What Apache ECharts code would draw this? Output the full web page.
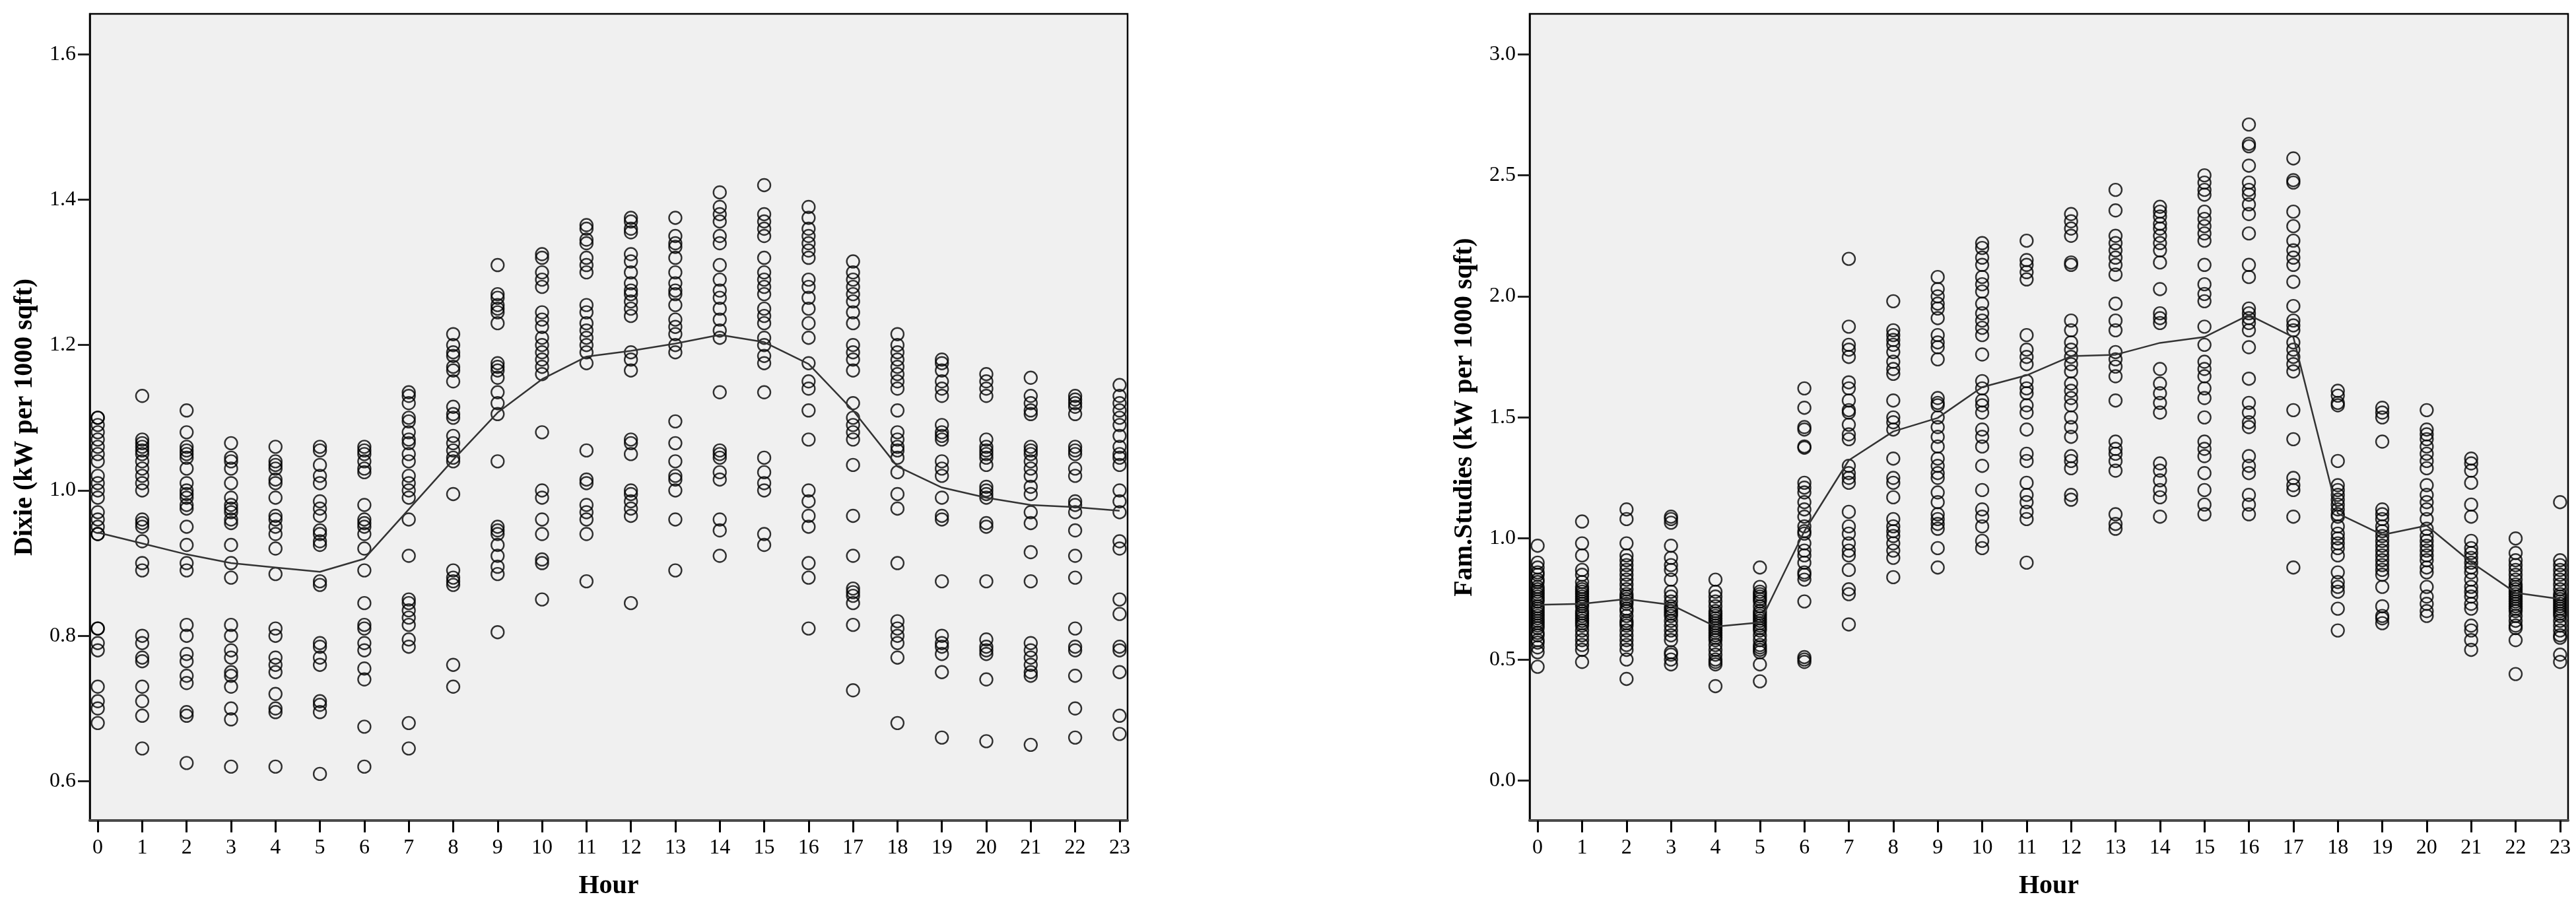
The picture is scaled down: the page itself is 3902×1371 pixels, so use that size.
<!DOCTYPE html>
<html>
<head>
<meta charset="utf-8">
<script src="https://cdn.jsdelivr.net/npm/echarts@6/dist/echarts.min.js"></script>
<style>
html, body { margin: 0; padding: 0; background: #fff; }
#chart { width: 3902px; height: 1371px; }
</style>
</head>
<body>
<div id="chart"></div>
<script>
// hours on the x axis
const hours = [0, 1, 2, 3, 4, 5, 6, 7, 8, 9, 10, 11, 12, 13, 14, 15, 16, 17, 18, 19, 20, 21, 22, 23];
const dixieTicks = [0.6, 0.8, 1.0, 1.2, 1.4, 1.6];
const famTicks = [0.0, 0.5, 1.0, 1.5, 2.0, 2.5, 3.0];

// mean line per hour
const dixieMean = [0.942, 0.927, 0.912, 0.900, 0.894, 0.888, 0.906, 0.974, 1.042, 1.107, 1.153, 1.184,
                   1.192, 1.202, 1.214, 1.204, 1.174, 1.110, 1.033, 1.004, 0.990, 0.980, 0.977, 0.972];
const famMean = [0.726, 0.730, 0.750, 0.726, 0.636, 0.653, 1.030, 1.323, 1.442, 1.498, 1.625, 1.674,
                 1.753, 1.759, 1.808, 1.832, 1.923, 1.832, 1.103, 1.015, 1.053, 0.902, 0.776, 0.750];

// observations, one list per hour (Dixie)
const dixieByHour = [
  [1.10, 1.10, 1.09, 1.08, 1.07, 1.06, 1.05, 1.04, 1.02, 1.01, 1.0, 0.99, 0.97, 0.96, 0.95, 0.94, 0.94, 0.81, 0.81, 0.79, 0.78, 0.73, 0.71, 0.70, 0.68],
  [1.13, 1.07, 1.065, 1.06, 1.055, 1.05, 1.04, 1.03, 1.02, 1.01, 1.0, 0.96, 0.955, 0.95, 0.93, 0.90, 0.89, 0.80, 0.79, 0.77, 0.765, 0.73, 0.71, 0.69, 0.645],
  [1.11, 1.08, 1.06, 1.055, 1.05, 1.045, 1.03, 1.01, 1.0, 0.995, 0.99, 0.98, 0.975, 0.95, 0.925, 0.90, 0.89, 0.815, 0.80, 0.775, 0.765, 0.745, 0.735, 0.695, 0.69, 0.625],
  [1.065, 1.045, 1.04, 1.03, 1.01, 0.99, 0.98, 0.975, 0.97, 0.96, 0.955, 0.925, 0.90, 0.88, 0.815, 0.80, 0.78, 0.77, 0.75, 0.745, 0.73, 0.70, 0.685, 0.62],
  [1.06, 1.04, 1.035, 1.03, 1.015, 1.01, 0.99, 0.965, 0.96, 0.95, 0.94, 0.92, 0.885, 0.81, 0.80, 0.77, 0.76, 0.75, 0.72, 0.70, 0.695, 0.62],
  [1.06, 1.055, 1.035, 1.02, 1.01, 0.985, 0.975, 0.965, 0.945, 0.94, 0.93, 0.925, 0.875, 0.87, 0.79, 0.785, 0.77, 0.76, 0.71, 0.705, 0.695, 0.61],
  [1.06, 1.055, 1.05, 1.04, 1.03, 1.025, 0.98, 0.96, 0.955, 0.95, 0.94, 0.92, 0.89, 0.845, 0.815, 0.81, 0.79, 0.78, 0.755, 0.74, 0.675, 0.62],
  [1.135, 1.13, 1.12, 1.10, 1.095, 1.08, 1.07, 1.065, 1.05, 1.04, 1.02, 1.01, 1.0, 0.99, 0.96, 0.91, 0.85, 0.845, 0.835, 0.825, 0.815, 0.795, 0.785, 0.68, 0.645],
  [1.215, 1.20, 1.19, 1.185, 1.17, 1.165, 1.15, 1.115, 1.105, 1.10, 1.075, 1.065, 1.055, 1.045, 1.04, 0.995, 0.89, 0.88, 0.875, 0.87, 0.76, 0.73],
  [1.31, 1.27, 1.265, 1.255, 1.25, 1.245, 1.23, 1.175, 1.17, 1.165, 1.155, 1.135, 1.12, 1.105, 1.04, 0.95, 0.945, 0.94, 0.925, 0.91, 0.895, 0.885, 0.805],
  [1.325, 1.32, 1.30, 1.29, 1.28, 1.245, 1.235, 1.225, 1.21, 1.20, 1.19, 1.18, 1.17, 1.16, 1.08, 1.0, 0.99, 0.96, 0.94, 0.905, 0.90, 0.85],
  [1.365, 1.36, 1.345, 1.34, 1.32, 1.31, 1.30, 1.255, 1.245, 1.23, 1.22, 1.21, 1.20, 1.19, 1.175, 1.055, 1.015, 1.01, 0.98, 0.97, 0.96, 0.94, 0.875],
  [1.375, 1.37, 1.36, 1.355, 1.325, 1.315, 1.30, 1.285, 1.275, 1.27, 1.26, 1.25, 1.24, 1.19, 1.18, 1.165, 1.07, 1.065, 1.05, 1.0, 0.995, 0.985, 0.975, 0.965, 0.845],
  [1.375, 1.35, 1.34, 1.335, 1.32, 1.30, 1.285, 1.275, 1.27, 1.255, 1.235, 1.225, 1.215, 1.20, 1.19, 1.095, 1.065, 1.04, 1.02, 1.015, 1.0, 0.96, 0.89],
  [1.41, 1.39, 1.38, 1.37, 1.35, 1.34, 1.31, 1.29, 1.275, 1.265, 1.25, 1.235, 1.22, 1.21, 1.135, 1.055, 1.05, 1.045, 1.025, 1.015, 0.96, 0.945, 0.91],
  [1.42, 1.38, 1.37, 1.36, 1.35, 1.32, 1.30, 1.29, 1.28, 1.27, 1.25, 1.24, 1.23, 1.21, 1.20, 1.185, 1.175, 1.135, 1.045, 1.025, 1.01, 1.0, 0.94, 0.925],
  [1.39, 1.375, 1.36, 1.35, 1.34, 1.33, 1.32, 1.29, 1.28, 1.265, 1.25, 1.23, 1.21, 1.175, 1.15, 1.14, 1.11, 1.07, 1.0, 0.985, 0.965, 0.95, 0.90, 0.88, 0.81],
  [1.315, 1.30, 1.29, 1.28, 1.27, 1.26, 1.245, 1.23, 1.20, 1.19, 1.18, 1.165, 1.12, 1.10, 1.09, 1.08, 1.07, 1.035, 0.965, 0.91, 0.865, 0.86, 0.855, 0.845, 0.815, 0.725],
  [1.215, 1.20, 1.19, 1.18, 1.17, 1.16, 1.15, 1.14, 1.11, 1.08, 1.07, 1.06, 1.055, 1.045, 1.025, 0.995, 0.975, 0.90, 0.82, 0.81, 0.80, 0.79, 0.77, 0.68],
  [1.18, 1.175, 1.165, 1.15, 1.14, 1.13, 1.09, 1.08, 1.075, 1.07, 1.04, 1.03, 1.02, 0.99, 0.965, 0.96, 0.875, 0.80, 0.79, 0.785, 0.775, 0.75, 0.66],
  [1.16, 1.15, 1.14, 1.13, 1.07, 1.06, 1.055, 1.05, 1.045, 1.035, 1.005, 1.0, 0.995, 0.99, 0.955, 0.95, 0.875, 0.795, 0.785, 0.78, 0.775, 0.74, 0.655],
  [1.155, 1.13, 1.12, 1.11, 1.105, 1.06, 1.055, 1.05, 1.04, 1.03, 1.02, 1.005, 0.995, 0.97, 0.955, 0.915, 0.875, 0.79, 0.78, 0.77, 0.76, 0.75, 0.745, 0.65],
  [1.13, 1.125, 1.12, 1.115, 1.105, 1.06, 1.055, 1.05, 1.03, 1.02, 0.985, 0.98, 0.97, 0.945, 0.91, 0.88, 0.81, 0.785, 0.78, 0.745, 0.70, 0.66],
  [1.145, 1.13, 1.12, 1.11, 1.10, 1.09, 1.075, 1.06, 1.05, 1.045, 1.035, 1.0, 0.985, 0.97, 0.93, 0.92, 0.85, 0.83, 0.785, 0.78, 0.75, 0.69, 0.665]
];

// observations, one list per hour (Fam.Studies)
const famByHour = [
  [0.97, 0.90, 0.88, 0.86, 0.85, 0.83, 0.82, 0.80, 0.79, 0.78, 0.77, 0.76, 0.75, 0.74, 0.72, 0.71, 0.70, 0.69, 0.68, 0.67, 0.66, 0.65, 0.64, 0.63, 0.61, 0.60, 0.58, 0.57, 0.55, 0.53, 0.47],
  [1.07, 0.98, 0.93, 0.87, 0.85, 0.82, 0.80, 0.79, 0.78, 0.77, 0.76, 0.75, 0.74, 0.73, 0.72, 0.70, 0.69, 0.68, 0.67, 0.66, 0.65, 0.64, 0.62, 0.60, 0.58, 0.56, 0.54, 0.49],
  [1.12, 1.08, 0.98, 0.93, 0.91, 0.89, 0.87, 0.85, 0.83, 0.81, 0.79, 0.77, 0.76, 0.75, 0.74, 0.73, 0.71, 0.70, 0.68, 0.66, 0.65, 0.64, 0.62, 0.60, 0.58, 0.56, 0.54, 0.50, 0.42],
  [1.09, 1.08, 1.065, 0.97, 0.92, 0.89, 0.87, 0.83, 0.78, 0.76, 0.74, 0.72, 0.71, 0.70, 0.69, 0.68, 0.66, 0.64, 0.62, 0.60, 0.58, 0.53, 0.52, 0.50, 0.48],
  [0.83, 0.78, 0.76, 0.74, 0.72, 0.70, 0.69, 0.68, 0.67, 0.66, 0.65, 0.64, 0.63, 0.62, 0.61, 0.60, 0.59, 0.58, 0.56, 0.54, 0.52, 0.50, 0.49, 0.48, 0.39],
  [0.88, 0.80, 0.78, 0.77, 0.76, 0.75, 0.74, 0.72, 0.70, 0.69, 0.68, 0.67, 0.66, 0.65, 0.64, 0.63, 0.62, 0.60, 0.58, 0.56, 0.55, 0.54, 0.53, 0.48, 0.41],
  [1.62, 1.54, 1.46, 1.45, 1.38, 1.375, 1.23, 1.21, 1.19, 1.15, 1.12, 1.09, 1.05, 1.03, 1.02, 0.98, 0.95, 0.93, 0.90, 0.86, 0.85, 0.83, 0.74, 0.51, 0.50, 0.49],
  [2.155, 1.875, 1.80, 1.78, 1.75, 1.645, 1.62, 1.57, 1.53, 1.52, 1.47, 1.43, 1.41, 1.30, 1.27, 1.25, 1.23, 1.11, 1.05, 1.02, 0.98, 0.95, 0.93, 0.87, 0.79, 0.77, 0.645],
  [1.98, 1.86, 1.84, 1.82, 1.80, 1.77, 1.73, 1.70, 1.68, 1.57, 1.50, 1.48, 1.45, 1.33, 1.25, 1.23, 1.17, 1.08, 1.05, 1.03, 1.01, 0.98, 0.95, 0.92, 0.84],
  [2.08, 2.03, 2.0, 1.97, 1.95, 1.91, 1.84, 1.81, 1.79, 1.74, 1.58, 1.56, 1.55, 1.50, 1.46, 1.42, 1.38, 1.33, 1.30, 1.27, 1.25, 1.19, 1.15, 1.10, 1.08, 1.06, 1.04, 0.96, 0.88],
  [2.22, 2.20, 2.16, 2.13, 2.08, 2.05, 2.02, 1.97, 1.93, 1.90, 1.87, 1.84, 1.76, 1.65, 1.62, 1.57, 1.55, 1.52, 1.45, 1.42, 1.38, 1.30, 1.20, 1.12, 1.09, 1.05, 0.99, 0.96],
  [2.23, 2.15, 2.13, 2.10, 2.07, 1.84, 1.78, 1.75, 1.72, 1.65, 1.62, 1.60, 1.55, 1.52, 1.45, 1.35, 1.32, 1.23, 1.18, 1.15, 1.11, 1.08, 0.90],
  [2.34, 2.31, 2.28, 2.25, 2.14, 2.13, 1.90, 1.86, 1.81, 1.78, 1.75, 1.72, 1.69, 1.64, 1.61, 1.58, 1.55, 1.50, 1.46, 1.42, 1.34, 1.32, 1.29, 1.18, 1.16],
  [2.44, 2.355, 2.25, 2.22, 2.19, 2.16, 2.13, 2.09, 1.97, 1.90, 1.86, 1.77, 1.74, 1.71, 1.67, 1.57, 1.40, 1.37, 1.35, 1.32, 1.28, 1.10, 1.06, 1.04],
  [2.37, 2.35, 2.33, 2.30, 2.28, 2.25, 2.22, 2.19, 2.14, 2.03, 1.93, 1.91, 1.89, 1.70, 1.64, 1.60, 1.56, 1.52, 1.31, 1.28, 1.24, 1.20, 1.17, 1.09],
  [2.50, 2.47, 2.44, 2.42, 2.35, 2.32, 2.29, 2.26, 2.23, 2.13, 2.05, 2.01, 1.98, 1.875, 1.80, 1.73, 1.70, 1.67, 1.62, 1.58, 1.50, 1.40, 1.37, 1.34, 1.27, 1.20, 1.14, 1.10],
  [2.71, 2.63, 2.62, 2.54, 2.47, 2.44, 2.42, 2.38, 2.34, 2.26, 2.13, 2.08, 1.95, 1.93, 1.91, 1.89, 1.86, 1.79, 1.66, 1.56, 1.52, 1.48, 1.46, 1.34, 1.30, 1.27, 1.18, 1.14, 1.10],
  [2.57, 2.48, 2.47, 2.35, 2.29, 2.23, 2.19, 2.16, 2.13, 2.06, 1.96, 1.90, 1.88, 1.86, 1.81, 1.78, 1.75, 1.72, 1.69, 1.53, 1.41, 1.25, 1.22, 1.20, 1.09, 0.88],
  [1.61, 1.59, 1.56, 1.55, 1.32, 1.22, 1.20, 1.18, 1.16, 1.14, 1.12, 1.10, 1.09, 1.05, 1.02, 1.0, 0.98, 0.96, 0.93, 0.86, 0.82, 0.80, 0.78, 0.71, 0.62],
  [1.54, 1.52, 1.50, 1.40, 1.12, 1.10, 1.08, 1.05, 1.03, 1.01, 0.99, 0.97, 0.95, 0.93, 0.91, 0.89, 0.87, 0.85, 0.80, 0.72, 0.68, 0.67, 0.65],
  [1.53, 1.45, 1.43, 1.41, 1.38, 1.35, 1.32, 1.29, 1.22, 1.18, 1.15, 1.12, 1.08, 1.04, 1.01, 0.99, 0.97, 0.95, 0.93, 0.91, 0.88, 0.86, 0.80, 0.76, 0.73, 0.70, 0.68],
  [1.33, 1.31, 1.28, 1.23, 1.14, 1.09, 0.99, 0.96, 0.94, 0.92, 0.90, 0.88, 0.86, 0.83, 0.80, 0.78, 0.76, 0.73, 0.71, 0.64, 0.62, 0.58, 0.54],
  [1.0, 0.94, 0.91, 0.89, 0.87, 0.85, 0.83, 0.81, 0.80, 0.79, 0.78, 0.77, 0.76, 0.75, 0.74, 0.73, 0.72, 0.71, 0.70, 0.68, 0.66, 0.64, 0.63, 0.58, 0.44],
  [1.15, 0.91, 0.89, 0.87, 0.85, 0.83, 0.81, 0.79, 0.77, 0.76, 0.75, 0.74, 0.73, 0.72, 0.71, 0.70, 0.69, 0.68, 0.66, 0.64, 0.62, 0.60, 0.59, 0.52, 0.49]
];

function points(byHour) {
  let out = [];
  byHour.forEach((vals, h) => {
    vals.forEach(v => out.push([hours[h], v]));
  });
  return out;
}

function meanLine(mean) {
  return mean.map((v, i) => [hours[i], v]);
}

const serif = 'Liberation Serif';

function xAxisFor(gridIndex) {
  return {
    gridIndex: gridIndex,
    type: 'value',
    min: -0.18,
    max: 23.18,
    name: 'Hour',
    nameLocation: 'middle',
    nameGap: 80,
    nameTextStyle: { fontFamily: serif, fontWeight: 'bold', fontSize: 40, color: '#000' },
    axisLine: { show: true, onZero: false, lineStyle: { color: '#4a4a4a', width: 4 } },
    axisTick: { show: true, length: 18, customValues: hours, lineStyle: { color: '#000', width: 3 } },
    axisLabel: { customValues: hours, margin: 26, fontFamily: serif, fontSize: 32, color: '#000' },
    splitLine: { show: false }
  };
}

function yAxisFor(gridIndex, min, max, ticks, title) {
  return {
    gridIndex: gridIndex,
    type: 'value',
    min: min,
    max: max,
    name: title,
    nameLocation: 'middle',
    nameGap: 78,
    nameTextStyle: { fontFamily: serif, fontWeight: 'bold', fontSize: 40, color: '#000' },
    axisLine: { show: true, onZero: false, lineStyle: { color: '#000', width: 2.5 } },
    axisTick: { show: true, length: 18, customValues: ticks, lineStyle: { color: '#222', width: 3 } },
    axisLabel: {
      customValues: ticks, margin: 21, fontFamily: serif, fontSize: 32, color: '#000',
      formatter: v => Number(v).toFixed(1)
    },
    splitLine: { show: false }
  };
}

const dotStyle = {
  color: 'rgba(0,0,0,0)',
  borderColor: '#000',
  borderWidth: 2.4
};

var myChart = echarts.init(document.getElementById('chart'));
var option = {
  animation: false,
  backgroundColor: '#fff',
  grid: [
    { left: 136, top: 21, width: 1572, height: 1222, show: true, backgroundColor: '#f0f0f0', borderColor: '#000', borderWidth: 2.5 },
    { left: 2317, top: 21, width: 1573, height: 1222, show: true, backgroundColor: '#f0f0f0', borderColor: '#000', borderWidth: 2.5 }
  ],
  xAxis: [xAxisFor(0), xAxisFor(1)],
  yAxis: [
    yAxisFor(0, 0.5459, 1.6556, dixieTicks, 'Dixie (kW per 1000 sqft)'),
    yAxisFor(1, -0.165, 3.167, famTicks, 'Fam.Studies (kW per 1000 sqft)')
  ],
  series: [
    {
      type: 'scatter', xAxisIndex: 0, yAxisIndex: 0,
      symbol: 'circle', symbolSize: 19,
      itemStyle: dotStyle,
      data: points(dixieByHour)
    },
    {
      type: 'line', xAxisIndex: 0, yAxisIndex: 0,
      symbol: 'none',
      lineStyle: { color: '#333', width: 2.5 },
      data: meanLine(dixieMean)
    },
    {
      type: 'scatter', xAxisIndex: 1, yAxisIndex: 1,
      symbol: 'circle', symbolSize: 19,
      itemStyle: dotStyle,
      data: points(famByHour)
    },
    {
      type: 'line', xAxisIndex: 1, yAxisIndex: 1,
      symbol: 'none',
      lineStyle: { color: '#333', width: 2.5 },
      data: meanLine(famMean)
    }
  ]
};
myChart.setOption(option);
window.addEventListener('resize', () => {
  myChart.resize();
});
</script>
</body>
</html>
